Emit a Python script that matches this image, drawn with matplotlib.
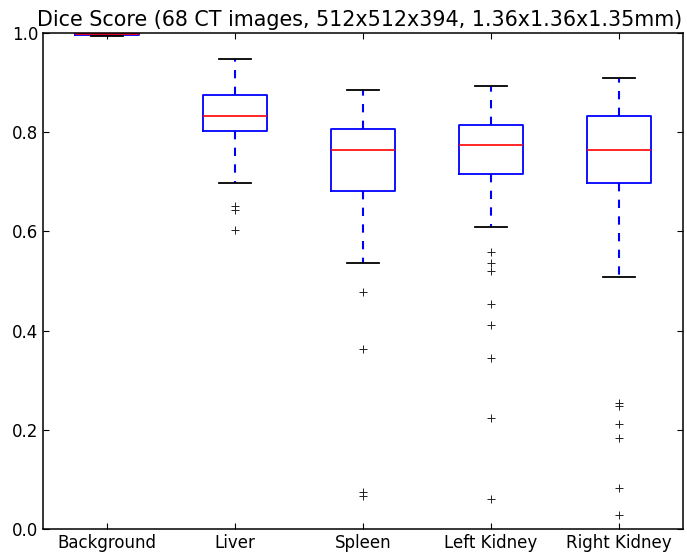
import numpy as np
import matplotlib
matplotlib.use('Agg')
import matplotlib.pyplot as plt

labels = ['Background', 'Liver', 'Spleen', 'Left Kidney', 'Right Kidney']
q1 = [0.997, 0.802, 0.681, 0.716, 0.698]
med = [0.999, 0.833, 0.764, 0.774, 0.764]
q3 = [1.000, 0.875, 0.806, 0.815, 0.833]
whislo = [0.993, 0.698, 0.536, 0.609, 0.508]
whishi = [1.000, 0.948, 0.885, 0.893, 0.909]
fliers = [
    [],
    [0.651, 0.643, 0.603],
    [0.477, 0.362, 0.075, 0.067],
    [0.558, 0.536, 0.521, 0.454, 0.412, 0.345, 0.224, 0.060],
    [0.255, 0.249, 0.212, 0.183, 0.083, 0.028],
]

stats = []
for i in range(len(labels)):
    stats.append(dict(label=labels[i], q1=q1[i], med=med[i], q3=q3[i],
                      whislo=whislo[i], whishi=whishi[i], fliers=fliers[i]))

fig = plt.figure(figsize=(6.87, 5.54), dpi=100)
ax = fig.add_axes([0.0626, 0.0451, 0.9316, 0.8953])

ax.bxp(stats, widths=0.5,
       boxprops=dict(color='b', linewidth=1.3),
       whiskerprops=dict(color='b', linestyle='--', linewidth=1.5, dashes=(4, 4)),
       capprops=dict(color='k', linewidth=1.3),
       medianprops=dict(color='r', linewidth=1.2),
       flierprops=dict(marker='+', markeredgecolor='#222222', markersize=6,
                       markeredgewidth=0.7, linestyle='none'))

ax.set_xlim(0.5, 5.5)
ax.set_ylim(0.0, 1.0)
ax.set_yticks(np.arange(0, 1.01, 0.2))
ax.set_yticklabels(['%.1f' % v for v in np.arange(0, 1.01, 0.2)])
ax.tick_params(direction='in', top=True, right=True, labelsize=12, length=4)
for s in ax.spines.values():
    s.set_linewidth(1.1)
ax.text(0.4945, 1.006, 'Dice Score (68 CT images, 512x512x394, 1.36x1.36x1.35mm)',
        transform=ax.transAxes, ha='center', va='bottom', fontsize=14.9)

fig.savefig('out.png', dpi=100)
